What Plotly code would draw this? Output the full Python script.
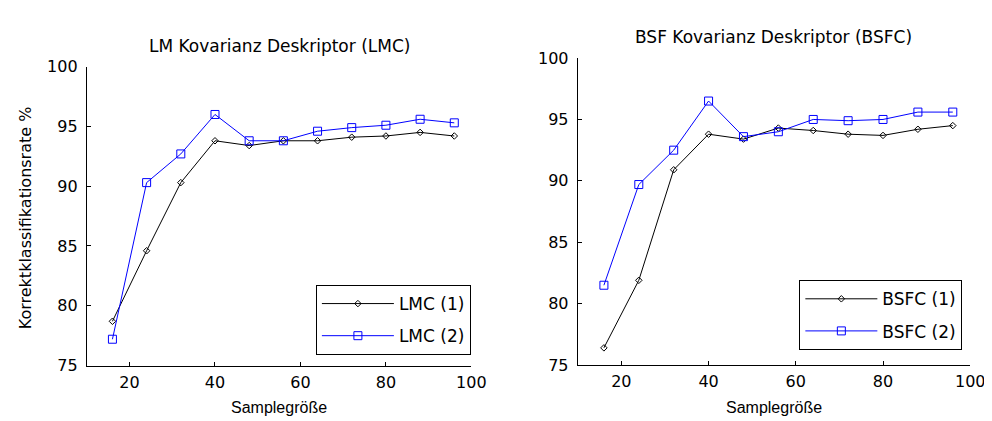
import plotly.graph_objects as go

sample_sizes = [16, 24, 32, 40, 48, 56, 64, 72, 80, 88, 96]

lmc1 = [78.7, 84.6, 90.3, 93.8, 93.4, 93.8, 93.8, 94.1, 94.2, 94.5, 94.2]
lmc2 = [77.2, 90.3, 92.7, 96.0, 93.8, 93.8, 94.6, 94.9, 95.1, 95.6, 95.3]

bsfc1 = [76.4, 81.9, 90.9, 93.8, 93.4, 94.3, 94.1, 93.8, 93.7, 94.2, 94.5]
bsfc2 = [81.5, 89.7, 92.5, 96.5, 93.6, 94.0, 95.0, 94.9, 95.0, 95.6, 95.6]

x_ticks = [20, 40, 60, 80, 100]
y_ticks = [75, 80, 85, 90, 95, 100]

titles = ["LM Kovarianz Deskriptor (LMC)", "BSF Kovarianz Deskriptor (BSFC)"]
x_label = "Samplegröße"
y_label = "Korrektklassifikationsrate %"

FONT = "DejaVu Sans, sans-serif"
FONT2 = "Arial, Liberation Sans, sans-serif"
W, H = 992, 421

fig = go.Figure()

def add_pair(s1, s2, n1, n2, xa, ya, leg, grp):
    fig.add_trace(go.Scatter(
        x=sample_sizes, y=s1, name=n1, mode="lines+markers",
        line=dict(color="black", width=1),
        marker=dict(symbol="diamond-open", size=5, color="black", line=dict(width=1)),
        xaxis=xa, yaxis=ya, legend=leg, legendgroup=grp + "a"))
    fig.add_trace(go.Scatter(
        x=sample_sizes, y=s2, name=n2, mode="lines+markers",
        line=dict(color="#0000ff", width=1),
        marker=dict(symbol="square-open", size=8, color="#0000ff", line=dict(width=1)),
        xaxis=xa, yaxis=ya, legend=leg, legendgroup=grp + "b"))

add_pair(lmc1, lmc2, "LMC (1)", "LMC (2)", "x", "y", "legend", "l")
add_pair(bsfc1, bsfc2, "BSFC (1)", "BSFC (2)", "x2", "y2", "legend2", "r")

# pixel geometry of axes
L = dict(x0=80, x1=470.5, y0=52, y1=365)
R = dict(x0=578.5, x1=977, y0=43, y1=364.5)

def xdom(g):
    return [g["x0"] / W, g["x1"] / W]

def ydom(g):
    return [1 - g["y1"] / H, 1 - g["y0"] / H]

axis_common = dict(
    showline=True, linecolor="black", linewidth=1, mirror=False,
    ticks="inside", ticklen=4, tickcolor="black", showgrid=False, zeroline=False,
    tickfont=dict(family=FONT, size=16, color="black"),
)

fig.update_layout(
    width=W, height=H,
    margin=dict(l=0, r=0, t=0, b=0),
    paper_bgcolor="white", plot_bgcolor="white",
    font=dict(family=FONT, size=16, color="black"),
    xaxis=dict(domain=xdom(L), range=[10, 100], tickvals=x_ticks, anchor="y", ticklabelstandoff=2, **axis_common),
    yaxis=dict(domain=ydom(L), range=[75, 100], tickvals=y_ticks, anchor="x", ticklabelstandoff=5, **axis_common),
    xaxis2=dict(domain=xdom(R), range=[10, 100], tickvals=x_ticks, anchor="y2", ticklabelstandoff=2, **axis_common),
    yaxis2=dict(domain=ydom(R), range=[75, 100], tickvals=y_ticks, anchor="x2", ticklabelstandoff=5, **axis_common),
    legend=dict(x=470 / W, y=1 - 354 / H, xanchor="right", yanchor="bottom",
                bordercolor="black", borderwidth=1, bgcolor="white", itemwidth=72,
                font=dict(family=FONT, size=17), tracegroupgap=7, traceorder="grouped"),
    legend2=dict(x=969 / W, y=1 - 349 / H, xanchor="right", yanchor="bottom",
                 bordercolor="black", borderwidth=1, bgcolor="white", itemwidth=72,
                 font=dict(family=FONT, size=17), tracegroupgap=7, traceorder="grouped"),
    showlegend=True,
)

def note(text, px, py, font, size, angle=0):
    return dict(text=text, x=px / W, y=1 - py / H, xref="paper", yref="paper",
                xanchor="center", yanchor="middle", showarrow=False, textangle=angle,
                font=dict(family=font, size=size, color="black"))

ann = [
    note(titles[0], (L["x0"] + L["x1"]) / 2, 30, FONT, 17),
    note(titles[1], (R["x0"] + R["x1"]) / 2, 21, FONT, 17),
    note(x_label, (L["x0"] + L["x1"]) / 2, 409, FONT2, 16),
    note(x_label, (R["x0"] + R["x1"]) / 2, 409, FONT2, 16),
    note(y_label, 18, 210, FONT, 16, -90),
]
fig.update_layout(annotations=ann)

fig.write_html("out.html")
